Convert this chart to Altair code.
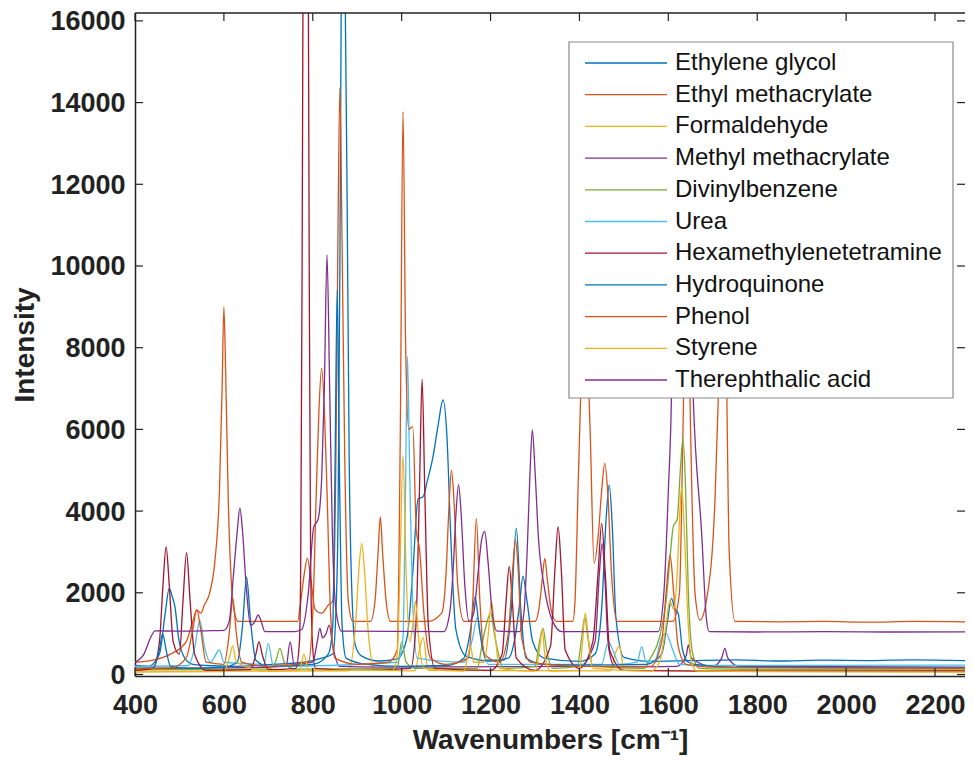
import altair as alt
import pandas as pd

names = ["Ethylene glycol", "Ethyl methacrylate", "Formaldehyde", "Methyl methacrylate",
         "Divinylbenzene", "Urea", "Hexamethylenetetramine", "Hydroquinone", "Phenol",
         "Styrene", "Therephthalic acid"]
colors = ["#0072BD", "#D95319", "#EDB120", "#7E2F8E", "#77AC30", "#4DBEEE", "#A2142F",
          "#0072BD", "#D95319", "#EDB120", "#7E2F8E"]

x_ticks = [400, 600, 800, 1000, 1200, 1400, 1600, 1800, 2000, 2200]
y_ticks = [0, 2000, 4000, 6000, 8000, 10000, 12000, 14000, 16000]

# Ethylene glycol
eg_x = [400, 430, 455, 468, 477, 484, 490, 498, 512, 530, 560, 620, 700, 780, 820, 845, 852, 857, 861, 864,
        868, 873, 877, 882, 888, 896, 910, 950, 990, 1012, 1025, 1037, 1048, 1058, 1070, 1082, 1093, 1102,
        1110, 1122, 1145, 1200, 1240, 1255, 1265, 1273, 1282, 1295, 1320, 1400, 1435, 1450, 1460, 1467,
        1474, 1482, 1500, 1560, 1650, 1750, 1850, 1950, 2050, 2150, 2268]
eg_y = [220, 200, 500, 1500, 2110, 1900, 1650, 900, 400, 250, 220, 200, 240, 300, 400, 500, 1500, 4000, 10000, 16500,
        22000, 16500, 12000, 5200, 2000, 700, 450, 330, 380, 900, 2500, 4300, 4350, 4750, 5300, 6100, 6720, 5800,
        3500, 1100, 450, 330, 400, 900, 1700, 2400, 1800, 800, 400, 320, 500, 1600, 3800, 4640,
        3600, 1400, 420, 320, 340, 360, 330, 350, 340, 360, 340]

# Ethyl methacrylate
ema_x = [400, 440, 480, 515, 530, 539, 548, 556, 568, 580, 590, 596, 600, 604, 610, 617, 624, 632, 700, 766,
         772, 780, 788, 796, 805, 820, 835, 845, 852, 856, 861, 866, 872, 880, 890, 930, 940, 947, 952, 957,
         965, 975, 1060, 1090, 1100, 1106, 1112, 1118, 1126, 1140, 1300, 1310, 1316, 1322, 1328, 1336, 1348,
         1385, 1390, 1398, 1412, 1424, 1433, 1443, 1450, 1457, 1464, 1472, 1485, 1610, 1625, 1633, 1642,
         1650, 1660, 1671, 1686, 1705, 1716, 1723, 1730, 1737, 1750, 1850, 1950, 2050, 2150, 2268]
ema_y = [300, 350, 500, 800, 1300, 1580, 1500, 1700, 2000, 2800, 4500, 7000, 9000, 7400, 4200, 2200, 1500, 1300, 1300, 1300,
         1700, 2400, 2850, 2300, 1600, 1500, 1700, 1800, 5250, 10000, 14360, 10500, 5250, 1800, 1300, 1300, 1800, 3000, 3860, 3000,
         1800, 1300, 1300, 1500, 2500, 4000, 5000, 4200, 2200, 1300, 1300, 1700, 2300, 2840, 2300, 1600, 1300,
         1300, 1800, 5000, 9000, 6000, 2720, 3500, 4500, 5170, 4400, 2500, 1300, 1300, 2000, 6000, 11000,
         6000, 2000, 1330, 1824, 4272, 8000, 11000, 8000, 3000, 1300, 1290, 1300, 1280, 1300, 1290]

# Formaldehyde
fa_x = [400, 880, 896, 904, 910, 916, 925, 940, 1030, 1040, 1048, 1060, 1470, 1480, 1490, 1500, 1800, 2268]
fa_y = [80, 90, 1200, 2600, 3210, 2600, 1000, 100, 90, 600, 900, 100, 90, 500, 700, 100, 80, 70]

# Methyl methacrylate
mma_x = [400, 600, 740, 749, 758, 800, 810, 816, 822, 830, 837, 845, 860, 960, 1400, 1435, 1445, 1451, 1457,
         1465, 1480, 1620, 1640, 1645, 1652, 1700, 1720, 1727, 1734, 1760, 2268]
mma_y = [150, 160, 200, 800, 250, 300, 800, 1130, 900, 1000, 1210, 700, 200, 180, 200, 800, 2500, 3200, 2400,
         700, 180, 200, 450, 722, 400, 200, 400, 641, 400, 200, 180]

# Divinylbenzene
dvb_x = [400, 700, 716, 726, 736, 760, 990, 1000, 1010, 1030, 1170, 1182, 1190, 1200, 1210, 1230, 1300, 1310,
         1318, 1326, 1340, 1395, 1405, 1412, 1419, 1430, 1545, 1560, 1580, 1595, 1605, 1611, 1620, 1627, 1633,
         1639, 1645, 1655, 1670, 1800, 2268]
dvb_y = [120, 130, 300, 640, 300, 130, 150, 800, 300, 150, 150, 800, 1200, 1500, 900, 150, 200, 800,
         1130, 600, 150, 200, 900, 1400, 900, 200, 150, 400, 900, 1800, 3000, 3620, 3800, 5000, 5780,
         4500, 2000, 500, 150, 120, 110]

# Urea
urea_x = [400, 520, 535, 546, 556, 570, 590, 600, 690, 700, 710, 720, 990, 1003, 1008, 1013, 1018, 1024, 1035,
          1140, 1160, 1170, 1180, 1195, 1450, 1465, 1475, 1490, 1530, 1540, 1550, 1570, 1585, 1595, 1610, 1625,
          1700, 2268]
urea_y = [200, 220, 700, 1330, 700, 300, 600, 300, 250, 760, 250, 200, 300, 900, 4000, 7780, 5000, 2000, 400,
          300, 900, 1400, 800, 250, 250, 800, 600, 250, 300, 683, 300, 350, 900, 1000, 600, 250,
          220, 230]

# Hexamethylenetetramine
hmt_x = [400, 440, 455, 463, 470, 477, 486, 500, 508, 516, 524, 534, 560, 660, 672, 679, 686, 700, 762, 770,
         773, 776, 779, 784, 789, 792, 795, 799, 806, 900, 1020, 1032, 1040, 1046, 1052, 1060, 1075, 1200, 1226,
         1235, 1242, 1249, 1258, 1300, 1335, 1345, 1352, 1359, 1368, 1400, 1430, 1442, 1450, 1458, 1468,
         1500, 1700, 2268]
hmt_y = [100, 150, 800, 2200, 3130, 2200, 800, 500, 1800, 2980, 1800, 500, 100, 120, 500, 800, 500, 120, 150, 800,
         3000, 10000, 20000, 26000, 20000, 10000, 3000, 800, 150, 100, 150, 1200, 4500, 7230, 4500, 1200, 150, 100, 500,
         1800, 2640, 1800, 400, 100, 700, 2600, 3620, 2600, 600, 150, 800, 2500, 3700, 2500, 600,
         100, 80, 90]

# Hydroquinone
hq_x = [400, 440, 455, 462, 470, 480, 520, 600, 630, 642, 651, 660, 672, 700, 800, 835, 845, 850, 855, 860,
        866, 875, 920, 1000, 1100, 1140, 1155, 1165, 1175, 1190, 1230, 1246, 1258, 1268, 1280, 1320, 1400,
        1550, 1585, 1598, 1607, 1615, 1622, 1632, 1645, 1660, 1750, 2268]
hq_y = [150, 160, 600, 1000, 600, 200, 150, 180, 300, 1200, 2380, 1300, 350, 200, 250, 500, 1200, 5000, 9410, 5000,
        1200, 400, 250, 200, 220, 400, 1100, 1900, 1100, 350, 350, 1500, 3580, 1600, 400, 250, 230,
        250, 500, 1300, 1865, 1600, 1500, 600, 300, 250, 180, 160]

# Phenol
ph_x = [400, 480, 515, 530, 539, 548, 560, 600, 612, 620, 628, 640, 700, 790, 800, 808, 814, 820, 826, 832,
        840, 850, 900, 970, 990, 997, 1003, 1009, 1016, 1025, 1033, 1040, 1050, 1065, 1100, 1150, 1160, 1168,
        1176, 1186, 1220, 1240, 1250, 1256, 1262, 1270, 1290, 1400, 1560, 1585, 1595, 1604, 1612, 1622,
        1640, 1700, 1800, 2268]
ph_y = [150, 160, 400, 1100, 1580, 1100, 300, 250, 1000, 1864, 1000, 300, 200, 300, 1500, 4500, 6500, 7500, 6500, 4500,
        1500, 400, 250, 300, 600, 6000, 13780, 8000, 6000, 6070, 3500, 3088, 1500, 400, 250, 400, 1800, 3820,
        1800, 500, 300, 1000, 2600, 3290, 2600, 900, 300, 200, 200, 800, 2000, 2930, 2000, 700,
        250, 180, 160, 150]

# Styrene
sty_x = [400, 600, 612, 620, 628, 700, 770, 780, 790, 980, 990, 996, 1003, 1010, 1018, 1026, 1031, 1038, 1050,
         1140, 1148, 1155, 1162, 1185, 1195, 1202, 1210, 1220, 1300, 1310, 1316, 1322, 1335, 1400, 1407, 1413,
         1420, 1430, 1560, 1580, 1595, 1603, 1612, 1620, 1626, 1630, 1636, 1645, 1652, 1665, 1800, 2268]
sty_y = [60, 70, 400, 700, 300, 80, 100, 500, 100, 100, 500, 2500, 5370, 2500, 800, 1300, 1800, 900, 150,
         80, 400, 700, 300, 300, 1000, 1800, 1000, 150, 80, 600, 1100, 500, 80, 100, 800, 1500,
         900, 150, 80, 300, 1200, 1800, 1600, 2500, 4000, 4600, 3500, 1200, 300, 80, 70, 60]

# Therephthalic acid
ta_x = [400, 420, 435, 445, 500, 560, 600, 612, 622, 630, 636, 642, 650, 660, 670, 677, 684, 692, 760, 775,
        790, 802, 812, 820, 826, 832, 838, 844, 852, 865, 1095, 1108, 1116, 1122, 1128, 1134, 1142, 1152, 1162,
        1172, 1180, 1187, 1194, 1204, 1215, 1265, 1275, 1283, 1289, 1294, 1300, 1308, 1320, 1340, 1360, 1577,
        1590, 1600, 1607, 1615, 1640, 1656, 1675, 1686, 1692, 1800, 1950, 2100, 2268]
ta_y = [300, 500, 900, 1070, 1060, 1070, 1080, 1300, 2500, 3500, 4075, 3500, 2200, 1200, 1300, 1456, 1300, 1050, 1050, 1100,
        2000, 3600, 3800, 4800, 7000, 10270, 7000, 3500, 1600, 1060, 1050, 1500, 2600, 3900, 4650, 3900, 2200, 1300, 1500,
        2500, 3300, 3500, 2800, 1500, 1060, 1050, 1500, 3200, 5000, 5990, 5000, 3300, 2200, 1300, 1050, 1050,
        2000, 4500, 6800, 14000, 14000, 6800, 3450, 1330, 1050, 1040, 1050, 1040, 1045]

series = [(eg_x, eg_y), (ema_x, ema_y), (fa_x, fa_y), (mma_x, mma_y), (dvb_x, dvb_y), (urea_x, urea_y),
          (hmt_x, hmt_y), (hq_x, hq_y), (ph_x, ph_y), (sty_x, sty_y), (ta_x, ta_y)]

rows = []
for k, (nm, (xs, ys)) in enumerate(zip(names, series)):
    for i, (a, b) in enumerate(zip(xs, ys)):
        rows.append({"name": nm, "s": k, "idx": i, "wn": a, "intensity": b})
df = pd.DataFrame(rows)

W, H = 830, 663
xscale = alt.Scale(domain=[400, 2267.5], nice=False, zero=False)
yscale = alt.Scale(domain=[-37, 16193], nice=False, zero=False)
cscale = alt.Scale(domain=names, range=colors)
FONT = "Liberation Sans"
INK = "#222222"

xaxis = alt.Axis(
    values=x_ticks, format="d", title="Wavenumbers [cm⁻¹]", grid=False, tickSize=0,
    labelFont=FONT, labelFontSize=27, labelFontWeight="bold", labelColor=INK, labelPadding=16,
    labelFlush=False, labelOverlap=False, domainColor=INK, domainWidth=1.5,
    titleFont=FONT, titleFontSize=28, titleFontWeight="bold", titleColor=INK, titlePadding=8)
yaxis = alt.Axis(
    values=y_ticks, format="d", title="Intensity", grid=False, tickSize=0,
    labelFont=FONT, labelFontSize=27, labelFontWeight="bold", labelColor=INK, labelPadding=10,
    labelOffset=1, labelFlush=False, labelOverlap=False, domainColor=INK, domainWidth=1.5,
    titleFont=FONT, titleFontSize=28, titleFontWeight="bold", titleColor=INK, titlePadding=10)

lines = alt.Chart(df).mark_line(strokeWidth=1.3, clip=True, interpolate="monotone").encode(
    x=alt.X("wn:Q", scale=xscale, axis=xaxis),
    y=alt.Y("intensity:Q", scale=yscale, axis=yaxis),
    color=alt.Color("name:N", scale=cscale, legend=None),
    detail="s:N",
    order=alt.Order("idx:Q"),
)

xt = pd.DataFrame({"wn": x_ticks})
yt = pd.DataFrame({"intensity": y_ticks})
bottom_ticks = alt.Chart(xt).mark_rule(color=INK, strokeWidth=1.2).encode(
    x=alt.X("wn:Q", scale=xscale, axis=xaxis), y=alt.value(H), y2=alt.value(H - 8))
top_ticks = alt.Chart(xt).mark_rule(color=INK, strokeWidth=1.2).encode(
    x=alt.X("wn:Q", scale=xscale, axis=xaxis), y=alt.value(0), y2=alt.value(8))
left_ticks = alt.Chart(yt).mark_rule(color=INK, strokeWidth=1.2).encode(
    y=alt.Y("intensity:Q", scale=yscale, axis=None), x=alt.value(0), x2=alt.value(8))
right_ticks = alt.Chart(yt).mark_rule(color=INK, strokeWidth=1.2).encode(
    y=alt.Y("intensity:Q", scale=yscale, axis=None), x=alt.value(W - 8), x2=alt.value(W))
top_line = alt.Chart(pd.DataFrame({"a": [0]})).mark_rule(color=INK, strokeWidth=1.5).encode(
    x=alt.value(0), x2=alt.value(W), y=alt.value(0))

leg = pd.DataFrame({"name": names, "row": list(range(len(names)))})
rowscale = alt.Scale(domain=[0, len(names) - 1], range=[50, 367], nice=False, zero=False)
leg_box = alt.Chart(pd.DataFrame({"a": [0]})).mark_rect(fill="white", stroke="#8a8a8a", strokeWidth=1.2).encode(
    x=alt.value(434), x2=alt.value(818), y=alt.value(29), y2=alt.value(385))
leg_lines = alt.Chart(leg).mark_rule(strokeWidth=1.3).encode(
    x=alt.value(450), x2=alt.value(532),
    y=alt.Y("row:Q", scale=rowscale, axis=None),
    color=alt.Color("name:N", scale=cscale, legend=None))
leg_text = alt.Chart(leg).mark_text(align="left", baseline="middle", font=FONT, fontSize=24, color="#111111").encode(
    x=alt.value(540), y=alt.Y("row:Q", scale=rowscale, axis=None), text="name:N")

chart = alt.layer(lines, bottom_ticks, top_ticks, left_ticks, right_ticks, top_line,
                  leg_box, leg_lines, leg_text).resolve_scale(y="independent").properties(
    width=W, height=H,
    padding={"left": 127, "top": 5, "right": 0, "bottom": 79},
    autosize=alt.AutoSizeParams(type="none"),
).configure_view(stroke=None)

chart.save("out.html", embed_options={"renderer": "svg", "actions": False})
